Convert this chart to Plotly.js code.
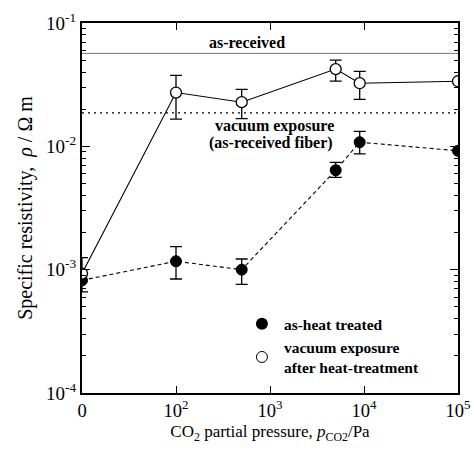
<!DOCTYPE html>
<html><head><meta charset="utf-8">
<script src="https://cdn.plot.ly/plotly-3.0.1.min.js"></script>
<style>body{margin:0;background:#fff}#c{width:474px;height:451px}</style>
</head><body><div id="c"></div><script>
// CO2 partial pressure (Pa); 0 Pa is drawn at the left end of the axis
const pressure = [0, 100, 500, 5000, 9000, 100000];
const zeroPosition = 10;
// as-heat treated (filled circles)
const heatTreated   = [8.2e-4, 1.17e-3, 1.0e-3, 6.4e-3, 0.0108, 9.2e-3];
const heatTreatedHi = [1.0e-3, 1.54e-3, 1.22e-3, 7.4e-3, 0.0132, 9.2e-3];
const heatTreatedLo = [6.6e-4, 8.4e-4, 7.6e-4, 5.6e-3, 8.7e-3, 9.2e-3];
// vacuum exposure after heat-treatment (open circles)
const vacuumAfter   = [9.3e-4, 0.0273, 0.0228, 0.0423, 0.0325, 0.0337];
const vacuumAfterHi = [1.25e-3, 0.0376, 0.0290, 0.0500, 0.0405, 0.0337];
const vacuumAfterLo = [9.3e-4, 0.0166, 0.0168, 0.0338, 0.0240, 0.0337];
// reference levels
const asReceived = 0.0567;
const vacuumAsReceived = 0.0187;
const xTickVals = [10, 100, 1000, 10000, 100000];
const xTickText = ['0', '10<sup>2</sup>', '10<sup>3</sup>', '10<sup>4</sup>', '10<sup>5</sup>'];
const yTickVals = [1e-4, 1e-3, 1e-2, 1e-1];
const yTickText = ['10<sup>-4</sup>', '10<sup>-3</sup>', '10<sup>-2</sup>', '10<sup>-1</sup>'];

const xPlot = pressure.map(p => p === 0 ? zeroPosition : p);
const xEnds = [xTickVals[0], xTickVals[xTickVals.length - 1]];
const up = (hi, v) => hi.map((h, i) => h - v[i]);
const down = (lo, v) => lo.map((l, i) => v[i] - l);
const minorY = [];
for (let e = -4; e < -1; e++) for (let d = 2; d <= 9; d++) minorY.push(d * Math.pow(10, e));

const FONT = 'Liberation Serif, Times New Roman, serif';
const traces = [
  {x: xEnds, y: [asReceived, asReceived], mode: 'lines', line: {color: '#777', width: 1}, showlegend: false, hoverinfo: 'skip'},
  {x: xEnds, y: [vacuumAsReceived, vacuumAsReceived], mode: 'lines', line: {color: '#000', width: 1.2, dash: '2px,4px'}, showlegend: false, hoverinfo: 'skip'},
  {x: xPlot, y: heatTreated, mode: 'lines+markers', showlegend: false,
   line: {color: '#000', width: 1.1, dash: '4px,3px'},
   marker: {symbol: 'circle', size: 11, color: '#000', line: {color: '#000', width: 1}},
   error_y: {type: 'data', symmetric: false, array: up(heatTreatedHi, heatTreated), arrayminus: down(heatTreatedLo, heatTreated), color: '#000', thickness: 1.3, width: 6}},
  {x: xPlot, y: vacuumAfter, mode: 'lines+markers', showlegend: false,
   line: {color: '#000', width: 1.1},
   marker: {symbol: 'circle', size: 11, color: '#fff', line: {color: '#000', width: 1.3}},
   error_y: {type: 'data', symmetric: false, array: up(vacuumAfterHi, vacuumAfter), arrayminus: down(vacuumAfterLo, vacuumAfter), color: '#000', thickness: 1.3, width: 6}},
  {x: [null], y: [null], mode: 'markers', name: 'as-heat treated',
   marker: {symbol: 'circle', size: 12, color: '#000'}},
  {x: [null], y: [null], mode: 'markers', name: 'vacuum exposure<br>after heat-treatment',
   marker: {symbol: 'circle', size: 11, color: '#fff', line: {color: '#000', width: 1}}}
];

const layout = {
  width: 474, height: 451,
  margin: {l: 82, r: 16, t: 23, b: 58},
  paper_bgcolor: '#fff', plot_bgcolor: '#fff',
  font: {family: FONT, color: '#000', size: 18},
  xaxis: {type: 'log', range: [1, 5], tickmode: 'array', tickvals: xTickVals, ticktext: xTickText,
    ticks: 'inside', ticklen: 7, tickwidth: 1, tickcolor: '#000',
    showline: true, linewidth: 2, linecolor: '#000', mirror: 'ticks', showgrid: false, zeroline: false,
    tickfont: {family: FONT, size: 18.5},
    title: {text: 'CO<sub>2</sub> partial pressure, <i>p</i><sub>CO2</sub>/Pa', font: {family: FONT, size: 17}, standoff: 5}},
  yaxis: {type: 'log', range: [-4, -1], tickmode: 'array', tickvals: yTickVals, ticktext: yTickText,
    ticks: 'inside', ticklen: 8, tickwidth: 1, tickcolor: '#000',
    minor: {tickmode: 'array', tickvals: minorY, ticks: 'inside', ticklen: 4, tickcolor: '#000', showgrid: false},
    showline: true, linewidth: 2, linecolor: '#000', mirror: 'ticks', showgrid: false, zeroline: false,
    tickfont: {family: FONT, size: 19},
    title: {text: 'Specific resistivity,  <i>ρ</i> / Ω m', font: {family: FONT, size: 20}, standoff: 8}},
  legend: {x: 0.42, y: 0.232, xanchor: 'left', yanchor: 'top', bgcolor: 'rgba(0,0,0,0)',
    font: {family: FONT, size: 15.5, weight: 'bold'}, itemwidth: 34, tracegroupgap: 0},
  annotations: [
    {xref: 'paper', yref: 'paper', x: 0.439, y: 0.946, xanchor: 'center', yanchor: 'middle', text: '<b>as-received</b>', showarrow: false, font: {family: FONT, size: 16}},
    {xref: 'paper', yref: 'paper', x: 0.513, y: 0.722, xanchor: 'center', yanchor: 'middle', text: '<b>vacuum exposure</b>', showarrow: false, font: {family: FONT, size: 16}},
    {xref: 'paper', yref: 'paper', x: 0.503, y: 0.677, xanchor: 'center', yanchor: 'middle', text: '<b>(as-received fiber)</b>', showarrow: false, font: {family: FONT, size: 16}}
  ],
  showlegend: true
};
Plotly.newPlot('c', traces, layout, {displayModeBar: false, staticPlot: true});
</script></body></html>
